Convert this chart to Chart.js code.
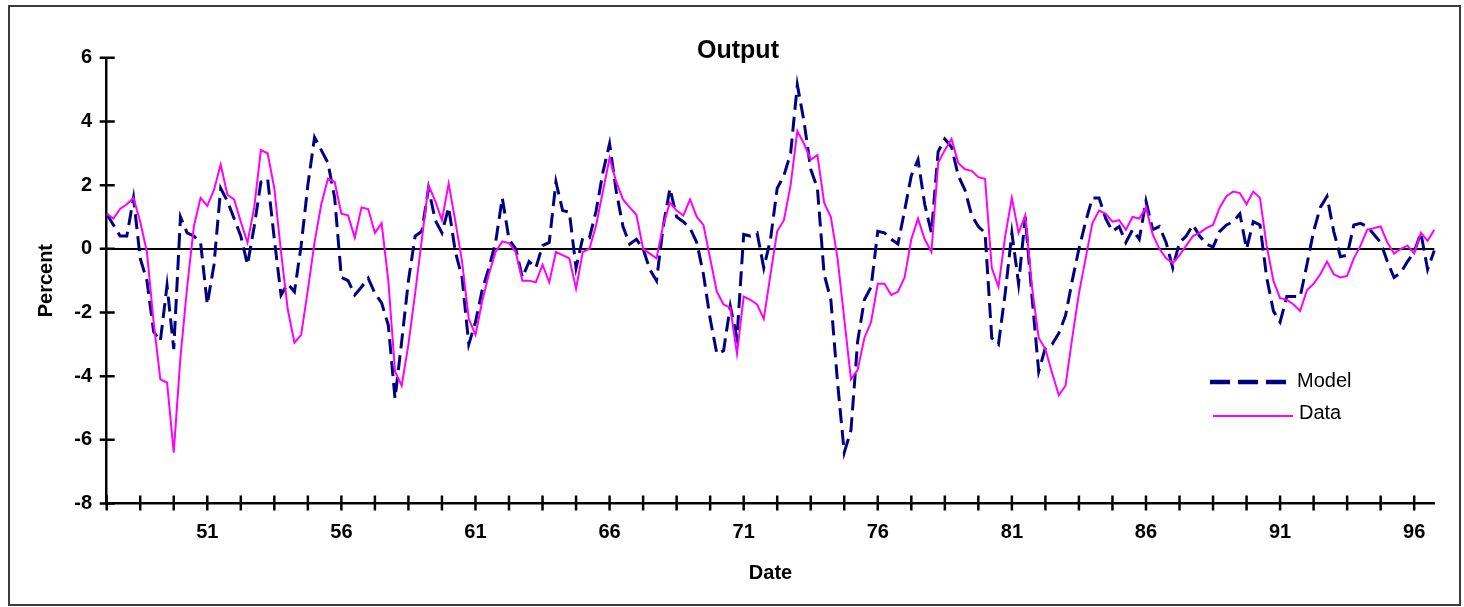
<!DOCTYPE html>
<html>
<head>
<meta charset="utf-8">
<title>Output</title>
<script src="https://cdn.jsdelivr.net/npm/chart.js@4.4.0/dist/chart.umd.min.js"></script>
<style>
  html, body { margin: 0; padding: 0; background: #fff; }
  #frame {
    position: absolute; left: 8px; top: 5px;
    width: 1449px; height: 597px;
    border: 2px solid #3c3c3c; background: #fff;
  }
  #frame canvas { display: block; }
</style>
</head>
<body>
<div id="frame"><canvas id="outputChart" width="1449" height="597"></canvas></div>
<script>
// Output, percent deviation: model vs data, quarterly from 1947:2
const firstYear = 47;
const firstQuarter = 2;
const tickEvery = 5; // tick mark every 5 quarters
const yearLabels = ['51', '56', '61', '66', '71', '76', '81', '86', '91', '96'];
const yTicks = [-8, -6, -4, -2, 0, 2, 4, 6];

const modelValues = [
  1.1, 0.75, 0.4, 0.4, 1.6, -0.3, -1.0, -2.6, -2.9, -1.15,
  -3.15, 1.0, 0.5, 0.4, 0.2, -1.75, -0.5, 1.9, 1.5, 0.95,
  0.4, -0.5, 0.7, 2.1, 2.2, 0.3, -1.45, -1.1, -1.35, 0.1,
  2.0, 3.5, 3.1, 2.7, 1.6, -0.9, -1.0, -1.45, -1.2, -0.92,
  -1.4, -1.7, -2.4, -4.7, -2.9, -1.0, 0.4, 0.55, 1.9, 0.9,
  0.5, 1.3, -0.1, -0.9, -3.0, -2.3, -1.3, -0.6, 0.2, 1.6,
  0.3, 0.0, -0.9, -0.4, -0.6, 0.1, 0.2, 2.1, 1.2, 1.15,
  -0.6, 0.35, 0.35, 1.2, 2.4, 3.3, 1.8, 0.7, 0.15, 0.3,
  0.0, -0.65, -1.0, 0.7, 1.9, 1.0, 0.85, 0.65, 0.2, -0.8,
  -2.2, -3.3, -3.2, -1.8, -2.8, 0.45, 0.4, 0.5, -0.6, 0.3,
  1.9, 2.3, 3.0, 5.15, 4.0, 2.5, 1.9, -0.8, -1.6, -4.2,
  -6.4, -5.7, -2.9, -1.6, -1.2, 0.55, 0.5, 0.3, 0.15, 1.2,
  2.3, 2.8, 1.4, 0.5, 3.05, 3.45, 3.2, 2.3, 1.85, 1.05,
  0.7, 0.5, -2.8, -3.0, -1.4, 0.5, -1.1, 1.0, -1.5, -3.85,
  -3.1, -3.0, -2.65, -2.1, -1.0, 0.0, 0.85, 1.6, 1.6, 0.95,
  0.55, 0.7, 0.2, 0.6, 0.3, 1.5, 0.6, 0.7, 0.2, -0.6,
  0.2, 0.4, 0.75, 0.4, 0.15, 0.05, 0.55, 0.75, 0.85, 1.1,
  0.0, 0.85, 0.75, -0.9, -1.95, -2.3, -1.5, -1.5, -1.5, -0.5,
  0.55, 1.3, 1.65, 0.55, -0.25, -0.2, 0.75, 0.8, 0.7, 0.45,
  0.2, -0.4, -0.9, -0.75, -0.4, -0.1, 0.5, -0.65, -0.05
];

const dataValues = [
  1.1, 0.95, 1.25, 1.4, 1.6, 0.85, -0.1, -2.3, -4.1, -4.2,
  -6.4, -3.4, -1.2, 0.7, 1.6, 1.35, 1.85, 2.65, 1.7, 1.55,
  0.85, 0.2, 1.3, 3.1, 3.0, 1.9, -0.1, -1.9, -2.95, -2.7,
  -1.3, 0.2, 1.4, 2.2, 2.1, 1.1, 1.05, 0.35, 1.3, 1.25,
  0.5, 0.8, -1.0, -3.85, -4.3, -3.0, -1.4, 0.3, 2.0, 1.5,
  0.9, 2.05, 0.86, -0.4, -2.2, -2.7, -1.65, -0.8, -0.1, 0.23,
  0.18, -0.1, -1.0, -1.0, -1.05, -0.5, -1.05, -0.1, -0.2, -0.3,
  -1.25, -0.1, 0.0, 0.75, 1.8, 2.85, 2.1, 1.55, 1.3, 1.07,
  0.0, -0.15, -0.3, 0.75, 1.45, 1.2, 1.05, 1.55, 1.0, 0.75,
  -0.3, -1.35, -1.75, -1.85, -3.3, -1.5, -1.6, -1.75, -2.2, -0.8,
  0.55, 0.9, 2.0, 3.7, 3.3, 2.8, 2.95, 1.45, 1.0, -0.3,
  -2.2, -4.1, -3.8, -2.8, -2.3, -1.1, -1.1, -1.45, -1.35, -0.9,
  0.3, 0.95, 0.3, -0.1, 2.7, 3.1, 3.45, 2.7, 2.5, 2.45,
  2.25, 2.2, -0.6, -1.2, 0.4, 1.6, 0.5, 1.05, -1.2, -2.8,
  -3.15, -3.9, -4.6, -4.3, -2.8, -1.4, -0.3, 0.8, 1.2, 1.1,
  0.85, 0.9, 0.6, 1.0, 0.95, 1.3, 0.45, 0.0, -0.3, -0.45,
  -0.2, 0.1, 0.4, 0.5, 0.65, 0.75, 1.3, 1.65, 1.8, 1.75,
  1.4, 1.8, 1.6, 0.1, -1.0, -1.55, -1.6, -1.75, -1.95, -1.3,
  -1.1, -0.8, -0.4, -0.8, -0.9, -0.85, -0.3, 0.1, 0.6, 0.65,
  0.7, 0.2, -0.15, 0.0, 0.1, -0.15, 0.5, 0.25, 0.6
];

// category labels like "51:1"
const quarters = [];
for (let i = 0; i < dataValues.length; i++) {
  const q = firstQuarter - 1 + i;
  quarters.push(`${firstYear + Math.floor(q / 4)}:${(q % 4) + 1}`);
}

const FONT = "'Liberation Sans', Arial, sans-serif";
const INK = '#000';

// tick marks that cross both axes
const crossTicks = {
  id: 'crossTicks',
  afterDraw(chart) {
    const { ctx, chartArea, scales: { x, y } } = chart;
    ctx.save();
    ctx.strokeStyle = INK;
    ctx.lineWidth = 2.5;
    ctx.beginPath();
    for (let i = 0; i < quarters.length; i += tickEvery) {
      const px = x.getPixelForValue(i);
      ctx.moveTo(px, chartArea.bottom - 8);
      ctx.lineTo(px, chartArea.bottom + 7);
    }
    yTicks.forEach(v => {
      const py = y.getPixelForValue(v);
      ctx.moveTo(chartArea.left - 7, py);
      ctx.lineTo(chartArea.left + 8, py);
    });
    ctx.stroke();
    ctx.restore();
  }
};

// title and legend box drawn inside the plot
const chartText = {
  id: 'chartText',
  afterDraw(chart) {
    const { ctx } = chart;
    const [model, data] = chart.data.datasets;
    ctx.save();
    ctx.fillStyle = INK;
    ctx.textBaseline = 'middle';

    ctx.font = `bold 25px ${FONT}`;
    ctx.textAlign = 'center';
    ctx.fillText('Output', 728, 44);

    ctx.lineCap = 'butt';
    ctx.strokeStyle = model.borderColor;
    ctx.lineWidth = 4.5;
    ctx.setLineDash([20, 8]);
    ctx.beginPath();
    ctx.moveTo(1200, 375);
    ctx.lineTo(1276, 375);
    ctx.stroke();

    ctx.strokeStyle = data.borderColor;
    ctx.lineWidth = 2;
    ctx.setLineDash([]);
    ctx.beginPath();
    ctx.moveTo(1203, 409);
    ctx.lineTo(1283, 409);
    ctx.stroke();

    ctx.font = `20px ${FONT}`;
    ctx.textAlign = 'left';
    ctx.fillText(model.label, 1287, 374);
    ctx.fillText(data.label, 1289, 406);
    ctx.restore();
  }
};

new Chart(document.getElementById('outputChart'), {
  type: 'line',
  data: {
    labels: quarters,
    datasets: [
      {
        label: 'Model',
        data: modelValues,
        borderColor: '#000080',
        borderWidth: 3,
        borderDash: [15, 7],
        pointRadius: 0,
        tension: 0,
        order: 2
      },
      {
        label: 'Data',
        data: dataValues,
        borderColor: '#ff00ff',
        borderWidth: 2,
        pointRadius: 0,
        tension: 0,
        order: 1
      }
    ]
  },
  options: {
    responsive: false,
    animation: false,
    events: [],
    layout: { padding: { top: 50.8, right: 24.7, bottom: 0, left: 0 } },
    plugins: {
      legend: { display: false },
      tooltip: { enabled: false },
      title: { display: false }
    },
    scales: {
      x: {
        offset: false,
        grid: { display: false, drawTicks: false },
        border: { display: true, color: INK, width: 2.5 },
        ticks: {
          autoSkip: false,
          maxRotation: 0,
          padding: 16.7,
          color: INK,
          font: { family: FONT, size: 20, weight: 'bold' },
          callback(value, index) {
            const [yr, q] = quarters[index].split(':');
            return q === '1' && yearLabels.includes(yr) ? yr : '';
          }
        },
        title: {
          display: true,
          text: 'Date',
          color: INK,
          font: { family: FONT, size: 20, weight: 'bold' },
          padding: { top: 0, bottom: 19 }
        },
        afterFit(scale) { scale.height = 100.5; }
      },
      y: {
        min: -8,
        max: 6,
        afterBuildTicks(scale) { scale.ticks = yTicks.map(v => ({ value: v })); },
        grid: {
          drawTicks: false,
          lineWidth: 2,
          color: ctx => (ctx.tick && ctx.tick.value === 0 ? INK : 'rgba(0,0,0,0)')
        },
        border: { display: true, color: INK, width: 2.5 },
        ticks: {
          padding: 14.7,
          color: INK,
          font: { family: FONT, size: 20, weight: 'bold' }
        },
        title: {
          display: true,
          text: 'Percent',
          color: INK,
          font: { family: FONT, size: 20, weight: 'bold' },
          padding: { top: 24, bottom: 0 }
        },
        afterFit(scale) { scale.width = 96.7; }
      }
    }
  },
  plugins: [crossTicks, chartText]
});
</script>
</body>
</html>
